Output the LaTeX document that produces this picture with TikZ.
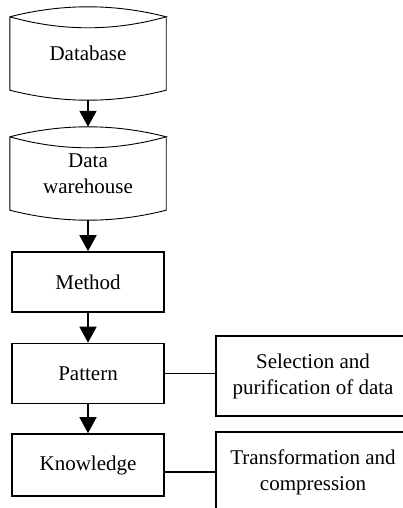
\documentclass[tikz,border=0pt]{standalone}
\usepackage{fontspec}
\setmainfont{Liberation Serif}
\usetikzlibrary{arrows.meta,calc}

% outline of a storage drum: lens-shaped top, straight sides, curved bottom
\newcommand\drumoutline[1]{%
  \draw[cylline] let \p1=(#1.north west), \p2=(#1.south east), \n1={(\x2-\x1)/3} in
    (\x1,\y1-10pt) .. controls (\x1+\n1,\y1+3.33pt) and (\x2-\n1,\y1+3.33pt) .. (\x2,\y1-10pt)
    .. controls (\x2-\n1,\y1-24.67pt) and (\x1+\n1,\y1-24.67pt) .. (\x1,\y1-10pt)
    -- (\x1,\y2+10pt)
    .. controls (\x1+\n1,\y2-3.33pt) and (\x2-\n1,\y2-3.33pt) .. (\x2,\y2+10pt)
    -- (\x2,\y1-10pt);
}

\begin{document}
\begin{tikzpicture}[x=1pt,y=-1pt,
  every node/.style={font=\fontsize{21}{26}\selectfont, align=center, inner sep=0pt},
  cylnode/.style={minimum width=156pt, minimum height=93pt},
  stepbox/.style={draw, line width=1.6pt, minimum width=152pt, minimum height=60pt},
  sidebox/.style={draw, line width=1.6pt, minimum width=194pt, minimum height=80pt},
  flow/.style={line width=1.6pt, -{Triangle[width=17pt,length=16pt]}},
  link/.style={line width=1.4pt},
  cylline/.style={line width=0.9pt, line join=miter}
]
\useasboundingbox (0,0) rectangle (403,508);
\clip (0,0) rectangle (403,508);

% main chain
\node[cylnode] (db) at (88,53.5) {Database};
\node[cylnode] (dw) at (88,173.5) {Data\\warehouse};
\drumoutline{db}
\drumoutline{dw}

\node[stepbox] (method) at (88,282) {Method};
\node[stepbox] (pat) at (88,373.5) {Pattern};
\node[stepbox, minimum height=62pt] (know) at (88,465) {Knowledge};

% side boxes
\node[sidebox] (sel) at (313,376) {Selection and\\purification of data};
\node[sidebox] (trans) at (313,472) {Transformation and\\compression};

% connectors
\draw[flow] (db.south) -- (dw.north);
\draw[flow] (dw.south) -- (method.north);
\draw[flow] (method.south) -- (pat.north);
\draw[flow] (pat.south) -- (know.north);
\draw[link] (pat.east) -- (pat.east -| sel.west);
\draw[link] (trans.west) -- (trans.west -| know.east);
\end{tikzpicture}
\end{document}
